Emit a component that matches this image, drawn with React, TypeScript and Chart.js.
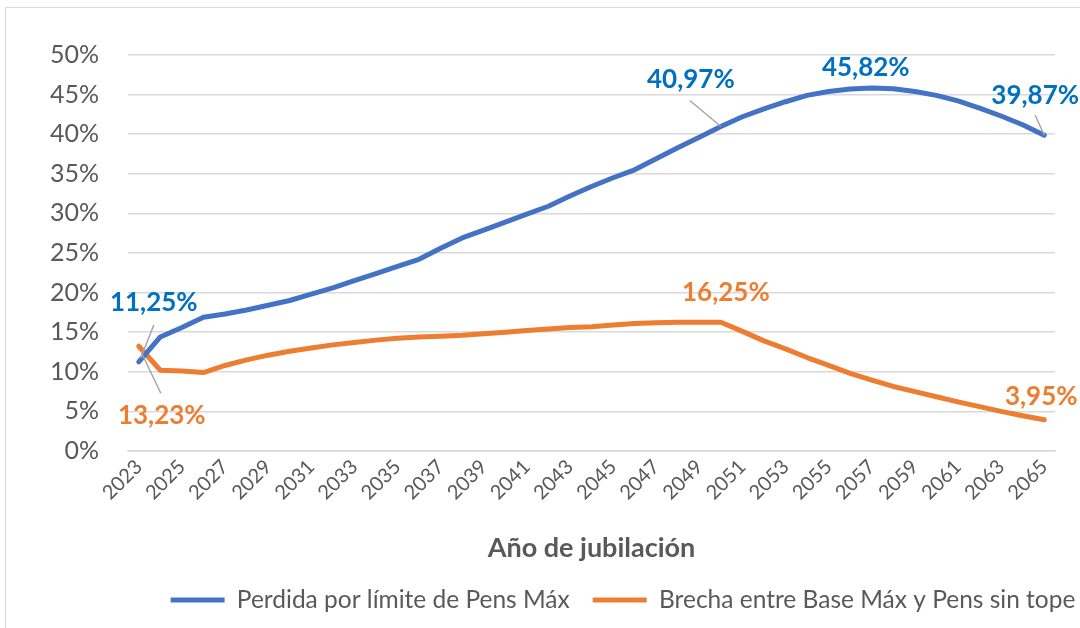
import { useEffect, useRef } from "react";
import { Chart, registerables } from "chart.js";

Chart.register(...registerables);

const years = [
  "2023", "2024", "2025", "2026", "2027", "2028", "2029", "2030", "2031", "2032",
  "2033", "2034", "2035", "2036", "2037", "2038", "2039", "2040", "2041", "2042",
  "2043", "2044", "2045", "2046", "2047", "2048", "2049", "2050", "2051", "2052",
  "2053", "2054", "2055", "2056", "2057", "2058", "2059", "2060", "2061", "2062",
  "2063", "2064", "2065",
];

const perdida = [
  11.25, 14.4, 15.6, 16.9, 17.3, 17.8, 18.4, 19.0, 19.8, 20.6,
  21.5, 22.4, 23.3, 24.2, 25.6, 26.9, 27.9, 28.9, 29.9, 30.9,
  32.2, 33.4, 34.5, 35.5, 36.9, 38.3, 39.6, 40.97, 42.2, 43.2,
  44.1, 44.9, 45.4, 45.7, 45.82, 45.75, 45.4, 44.9, 44.2, 43.3,
  42.3, 41.2, 39.87,
];

const brecha = [
  13.23, 10.2, 10.1, 9.9, 10.8, 11.5, 12.1, 12.6, 13.0, 13.4,
  13.7, 14.0, 14.25, 14.4, 14.5, 14.6, 14.8, 15.0, 15.2, 15.4,
  15.6, 15.7, 15.9, 16.1, 16.2, 16.25, 16.25, 16.25, 15.1, 13.9,
  12.9, 11.8, 10.8, 9.8, 8.95, 8.15, 7.5, 6.85, 6.2, 5.6,
  5.0, 4.45, 3.95,
];

const seriesNames = ["Perdida por límite de Pens Máx", "Brecha entre Base Máx y Pens sin tope"];
const seriesColors = ["#4472C4", "#ED7D31"];
const labelColors = ["#0070C0", "#ED7D31"];

// value labels: dataset index, point index, text
const labelDataset = [0, 1, 0, 0, 0, 1, 1];
const labelIndex = [0, 0, 27, 34, 42, 27, 42];
const labelText = ["11,25%", "13,23%", "40,97%", "45,82%", "39,87%", "16,25%", "3,95%"];

// label placement offsets from point (px), and optional leader line offsets
const labelPlacement = [
  { dx: 15, dy: -59, leader: [15, -37, 2, -4] },
  { dx: 23, dy: 69, leader: [3, 7, 22, 47] },
  { dx: -30, dy: -47, leader: [-31, -26, 0, 0] },
  { dx: -6, dy: -20, leader: null },
  { dx: -9, dy: -40, leader: [-9, -20, 0, 0] },
  { dx: 5, dy: -30, leader: null },
  { dx: -3, dy: -23, leader: null },
];

const FONT = "Lato, 'Open Sans', sans-serif";
const TEXT = "#595959";
const GRID = "#d9d9d9";

const valueLabelsPlugin = {
  id: "valueLabels",
  afterDatasetsDraw(chart: any) {
    const ctx = chart.ctx;
    ctx.save();
    labelText.forEach((text, i) => {
      const meta = chart.getDatasetMeta(labelDataset[i]);
      const pt = meta.data[labelIndex[i]];
      if (!pt) return;
      const p = labelPlacement[i];
      if (p.leader) {
        ctx.strokeStyle = "#a6a6a6";
        ctx.lineWidth = 1.5;
        ctx.beginPath();
        ctx.moveTo(pt.x + p.leader[0], pt.y + p.leader[1]);
        ctx.lineTo(pt.x + p.leader[2], pt.y + p.leader[3]);
        ctx.stroke();
      }
      ctx.fillStyle = labelColors[labelDataset[i]];
      ctx.font = `bold 26px ${FONT}`;
      ctx.textAlign = "center";
      ctx.textBaseline = "middle";
      ctx.fillText(text, pt.x + p.dx, pt.y + p.dy);
    });
    ctx.restore();
  },
};

export default function App() {
  const ref = useRef<HTMLCanvasElement | null>(null);

  useEffect(() => {
    document.body.style.margin = "0";
    document.body.style.overflow = "hidden";
    const canvas = ref.current!;
    const chart = new Chart(canvas, {
      type: "line",
      data: {
        labels: years,
        datasets: [
          {
            label: seriesNames[0],
            data: perdida,
            borderColor: seriesColors[0],
            backgroundColor: seriesColors[0],
            borderWidth: 5,
            pointRadius: 0,
            tension: 0,
            borderCapStyle: "round",
            borderJoinStyle: "round",
          },
          {
            label: seriesNames[1],
            data: brecha,
            borderColor: seriesColors[1],
            backgroundColor: seriesColors[1],
            borderWidth: 5,
            pointRadius: 0,
            tension: 0,
            borderCapStyle: "round",
            borderJoinStyle: "round",
          },
        ],
      },
      options: {
        responsive: false,
        animation: false,
        layout: { padding: { top: 55, left: 0, right: 0, bottom: 14.75 } },
        plugins: {
          tooltip: { enabled: false },
          legend: {
            position: "bottom",
            align: "center",
            labels: {
              boxWidth: 54,
              boxHeight: 5,
              padding: 23,
              color: TEXT,
              font: { family: FONT, size: 24.5 },
              generateLabels: (c: any) =>
                c.data.datasets.map((d: any, i: number) => ({
                  text: d.label,
                  fillStyle: seriesColors[i],
                  strokeStyle: seriesColors[i],
                  lineWidth: 0,
                  datasetIndex: i,
                  fontColor: TEXT,
                })),
            },
          },
        },
        scales: {
          x: {
            offset: true,
            grid: { display: false, drawTicks: false },
            border: { display: true, color: GRID, width: 1.5 },
            ticks: {
              autoSkip: false,
              minRotation: 45,
              maxRotation: 45,
              padding: 4,
              color: TEXT,
              font: { family: FONT, size: 20 },
              callback: function (this: any, val: any, i: number) {
                return i % 2 === 0 ? this.getLabelForValue(val) : "";
              },
            },
            title: {
              display: true,
              text: "Año de jubilación",
              color: TEXT,
              font: { family: FONT, size: 27, weight: "bold" },
              padding: { top: 0, bottom: 0.5 },
            },
            afterFit: (s: any) => {
              s.height = 113.75;
            },
          },
          y: {
            min: 0,
            max: 50,
            border: { display: false },
            grid: { color: GRID, lineWidth: 1.5, drawTicks: false },
            ticks: {
              stepSize: 5,
              padding: 29,
              color: TEXT,
              font: { family: FONT, size: 25 },
              callback: (v: any) => `${v}%`,
            },
            afterFit: (s: any) => {
              s.width = 128;
            },
          },
          spacer: {
            type: "linear",
            position: "right",
            display: true,
            grid: { display: false, drawTicks: false },
            border: { display: false },
            ticks: { display: false },
            afterFit: (s: any) => {
              s.width = 191;
            },
          },
        },
      },
      plugins: [valueLabelsPlugin],
    } as any);
    return () => chart.destroy();
  }, []);

  return (
    <div style={{ position: "fixed", left: 0, top: 0, width: 1080, height: 628, overflow: "hidden", background: "#fff" }}>
      <div
        style={{
          position: "absolute",
          left: 5,
          top: 7,
          width: 1300,
          height: 700,
          border: "1px solid #d9d9d9",
          boxSizing: "border-box",
        }}
      />
      <canvas ref={ref} width={1246} height={637} style={{ position: "absolute", left: 0, top: 0 }} />
    </div>
  );
}
